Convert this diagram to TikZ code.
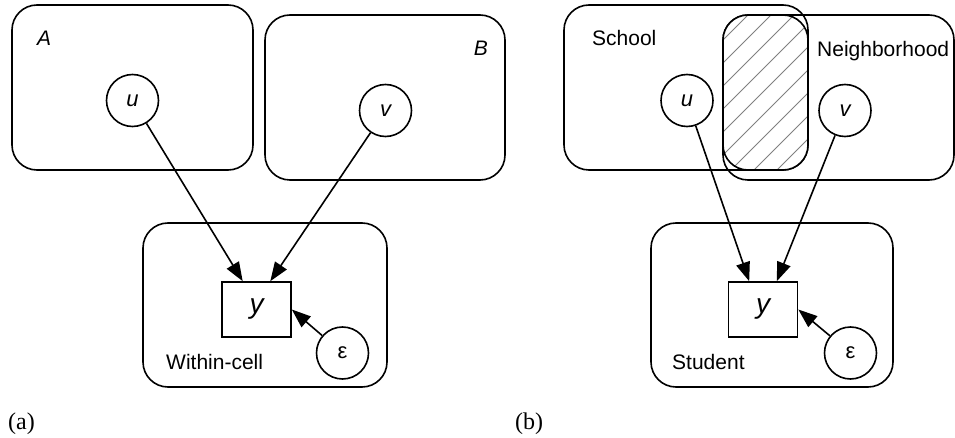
\documentclass[tikz,border=0pt]{standalone}
\usepackage{fontspec}
\setmainfont{Liberation Sans}
\newfontfamily\capfont{Liberation Serif}
\usetikzlibrary{arrows.meta}

\tikzset{
  plate/.style={draw, line width=1.6pt, rounded corners=25pt},
  var/.style={circle, draw, line width=1.6pt, minimum size=52pt, inner sep=0pt,
              font=\fontsize{22}{24}\selectfont\itshape},
  obs/.style={rectangle, draw, line width=1.6pt, minimum width=69pt, minimum height=55pt,
              inner sep=0pt, font=\fontsize{28}{30}\selectfont\itshape},
  noise/.style={circle, draw, line width=1.6pt, minimum size=52pt, inner sep=0pt,
              font=\fontsize{22}{24}\selectfont},
  lbl/.style={inner sep=0pt, font=\fontsize{21}{24}\selectfont},
  captext/.style={inner sep=0pt, anchor=base west, font=\capfont\fontsize{24}{26}\selectfont},
  link/.style={line width=1.6pt, -{Triangle[length=19pt, width=14pt]}},
  hatchline/.style={line width=0.8pt, gray}
}

\begin{document}
\begin{tikzpicture}[x=1pt, y=-1pt]
\useasboundingbox (0,0) rectangle (955,438);

% ---------- (a) cross-classified cells ----------
\draw[plate] (12,5) rectangle (253,170);
\draw[plate] (265,15) rectangle (505,180);
\draw[plate] (143,223) rectangle (387,387);

\node[lbl, anchor=base west] (la) at (37,46) {\itshape A};
\node[lbl, anchor=base east] (lb) at (488,56) {\itshape B};
\node[lbl, anchor=base west] (lw) at (166,369) {Within-cell};

\node[var] (u1) at (132.5,100.5) {u};
\node[var] (v1) at (385.5,110.5) {v};
\node[obs] (y1) at (256.5,309.5) {y};
\node[noise] (e1) at (342.5,353) {ε};

\draw[link] (u1) -- (y1.116);
\draw[link] (v1) -- (y1.64);
\draw[link] (e1) -- (y1.east);

\node[captext] (capa) at (8,429) {(a)};

% ---------- (b) schools and neighborhoods ----------
\draw[plate] (564,5) rectangle (808,170);
\draw[plate] (723,15) rectangle (954,180);

% overlap of the two groupings
\fill[white, rounded corners=25pt] (723,15) rectangle (808,170);
\begin{scope}
  \clip[rounded corners=25pt] (723,15) rectangle (808,170);
  \foreach \k in {0,...,12} {
    \draw[hatchline] (700,40+23*\k) -- ++(180,-180);
  }
\end{scope}
\draw[plate] (723,15) rectangle (808,170);

\node[lbl, anchor=base west] (ls) at (592,46) {School};
\node[lbl, anchor=base west] (ln) at (817,57) {Neighborhood};
\node[lbl, anchor=base west] (lt) at (672,369) {Student};

\draw[plate] (651,223) rectangle (893,387);

\node[var] (u2) at (687,100.5) {u};
\node[var] (v2) at (845,110.5) {v};
\node[obs] (y2) at (763,309.5) {y};
\node[noise] (e2) at (850.5,353) {ε};

\draw[link] (u2) -- (y2.116);
\draw[link] (v2) -- (y2.64);
\draw[link] (e2) -- (y2.east);

\node[captext] (capb) at (515,429) {(b)};
\end{tikzpicture}
\end{document}
